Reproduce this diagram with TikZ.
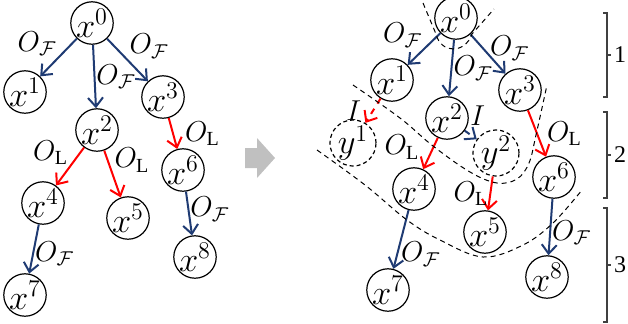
\documentclass[tikz,border=0pt]{standalone}
\usepackage{fontspec}
\setmainfont{Liberation Serif}
\usepackage{xcolor}
\usepackage{tikz}
\usetikzlibrary{arrows.meta}
\definecolor{fcol}{HTML}{1F3B73}
\definecolor{lcol}{HTML}{FF0000}
\definecolor{stepgray}{HTML}{C0C0C0}
\tikzset{
  tnode/.style={draw, circle, line width=0.6pt, minimum size=18.5pt, inner sep=0pt, font=\LARGE},
  gnode/.style={tnode, dash pattern=on 2pt off 1.5pt},
  fedge/.style={-{Straight Barb[length=4.5pt,width=7.5pt]}, line width=1pt, draw=fcol},
  ledge/.style={fedge, draw=lcol},
  lbl/.style={inner sep=0.5pt, font=\Large},
  cut/.style={line width=0.5pt, dash pattern=on 2.5pt off 2pt},
  brk/.style={line width=0.6pt, draw=black!75}
}

\begin{document}
\begin{tikzpicture}[x=0.5pt, y=-0.5pt]
  \useasboundingbox (0,0) rectangle (628,323);

  % before
  \node[tnode] (a0) at (92,23) {$x^0$};
  \node[tnode] (a1) at (25,92) {$x^1$};
  \node[tnode] (a2) at (97,130) {$x^2$};
  \node[tnode] (a3) at (163,97) {$x^3$};
  \node[tnode] (a4) at (43,203) {$x^4$};
  \node[tnode] (a5) at (128,218) {$x^5$};
  \node[tnode] (a6) at (183,170) {$x^6$};
  \node[tnode] (a7) at (25,295) {$x^7$};
  \node[tnode] (a8) at (195,257) {$x^8$};

  \draw[fedge] (a0) -- node[lbl, above left] {$O_{\mathcal{F}}$} (a1);
  \draw[fedge] (a0) -- node[lbl, right] {$O_{\mathcal{F}}$} (a2);
  \draw[fedge] (a0) -- node[lbl, above right] {$O_{\mathcal{F}}$} (a3);
  \draw[ledge] (a2) -- node[lbl, above left] {$O_{\mathrm{L}}$} (a4);
  \draw[ledge] (a2) -- node[lbl, above right] {$O_{\mathrm{L}}$} (a5);
  \draw[ledge] (a3) -- node[lbl, right=5pt] {$O_{\mathrm{L}}$} (a6);
  \draw[fedge] (a6) -- node[lbl, right, pos=.4] {$O_{\mathcal{F}}$} (a8);
  \draw[fedge] (a4) -- node[lbl, right, pos=.6] {$O_{\mathcal{F}}$} (a7);

  % shift arrow
  \fill[stepgray] (245,148) -- (257,148) -- (257,138) -- (275,158) -- (257,178) -- (257,168) -- (245,168) -- cycle;

  % after
  \node[tnode] (b0) at (456,18) {$x^0$};
  \node[tnode] (b1) at (392,80) {$x^1$};
  \node[tnode] (b2) at (447,118) {$x^2$};
  \node[tnode] (b3) at (520,90) {$x^3$};
  \node[gnode] (c1) at (353,143) {$y^1$};
  \node[gnode] (c2) at (496,153) {$y^2$};
  \node[tnode] (b4) at (414,189) {$x^4$};
  \node[tnode] (b5) at (485,232) {$x^5$};
  \node[tnode] (b6) at (554,177) {$x^6$};
  \node[tnode] (b7) at (388,290) {$x^7$};
  \node[tnode] (b8) at (547,277) {$x^8$};

  \draw[fedge] (b0) -- node[lbl, above left] {$O_{\mathcal{F}}$} (b1);
  \draw[fedge] (b0) -- node[lbl, right] {$O_{\mathcal{F}}$} (b2);
  \draw[fedge] (b0) -- node[lbl, right, yshift=3pt] {$O_{\mathcal{F}}$} (b3);
  \draw[ledge, dashed] (b1) -- node[lbl, left=5pt] {$I$} (c1);
  \draw[fedge, dashed] (b2) -- node[lbl, above right, pos=.3, yshift=3pt] {$I$} (c2);
  \draw[ledge] (b2) -- node[lbl, left=6pt, pos=.3] {$O_{\mathrm{L}}$} (b4);
  \draw[ledge] (b3) -- node[lbl, right=4pt] {$O_{\mathrm{L}}$} (b6);
  \draw[ledge] (c2) -- node[lbl, left] {$O_{\mathrm{L}}$} (b5);
  \draw[fedge] (b6) -- node[lbl, right, pos=.6] {$O_{\mathcal{F}}$} (b8);
  \draw[fedge] (b4) -- node[lbl, right=1pt, pos=.75] {$O_{\mathcal{F}}$} (b7);

  % cuts
  \draw[cut] (423,3) -- (436,34) .. controls (441,54) and (465,54) .. (472,34) -- (494,9);
  \draw[cut] plot[smooth, tension=.6] coordinates {(353,85) (400,118) (433,146) (470,172) (497,183) (517,179) (529,163) (536,135) (547,85)};
  \draw[cut] plot[smooth, tension=.6] coordinates {(317,150) (365,185) (407,220) (440,240) (483,257) (523,245) (553,223) (582,190)};

  % levels
  \draw[brk] (603,13) -- (607,13) -- (607,97) -- (603,97);
  \draw[brk] (607,55) -- (611,55);
  \draw[brk] (603,112) -- (607,112) -- (607,198) -- (603,198);
  \draw[brk] (607,155) -- (611,155);
  \draw[brk] (603,208) -- (607,208) -- (607,322) -- (603,322);
  \draw[brk] (607,265) -- (611,265);
  \node[font=\large] (n1) at (620,55) {1};
  \node[font=\large] (n2) at (620,155) {2};
  \node[font=\large] (n3) at (620,265) {3};
\end{tikzpicture}
\end{document}
